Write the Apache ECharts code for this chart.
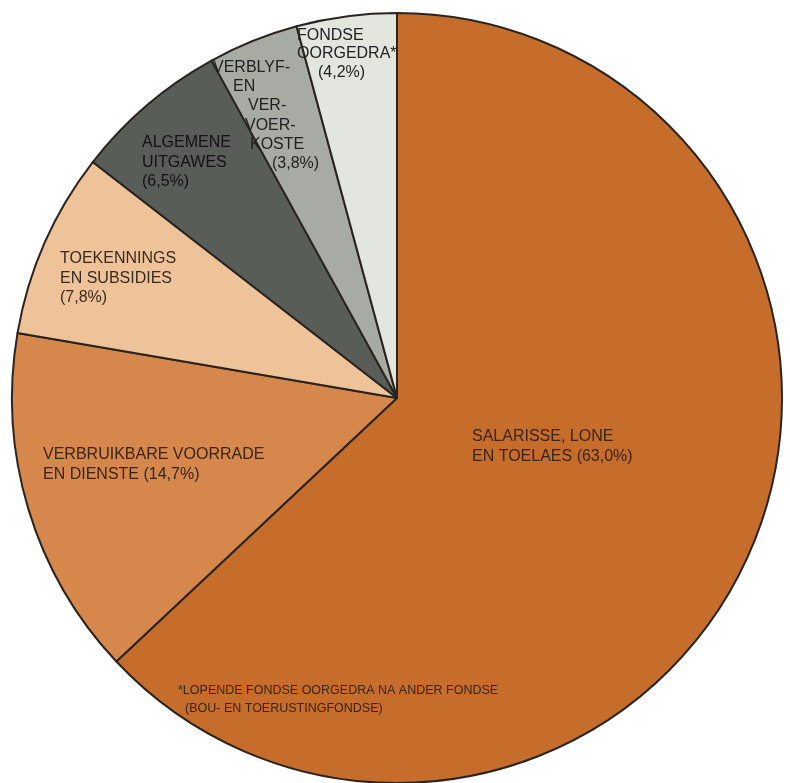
<!DOCTYPE html>
<html>
<head>
<meta charset="utf-8">
<script src="https://cdn.jsdelivr.net/npm/echarts@6/dist/echarts.min.js"></script>
<style>
  html, body { margin: 0; padding: 0; background: #ffffff; }
  #chart { width: 790px; height: 783px; }
</style>
</head>
<body>
<div id="chart"></div>
<script>
// ---- data ----
var categories = [
  'SALARISSE, LONE\nEN TOELAES',
  'VERBRUIKBARE VOORRADE\nEN DIENSTE',
  'TOEKENNINGS\nEN SUBSIDIES',
  'ALGEMENE\nUITGAWES',
  'VERBLYF-\nEN\nVER-\nVOER-\nKOSTE',
  'FONDSE\nOORGEDRA*'
];
var values = [63.0, 14.7, 7.8, 6.5, 3.8, 4.2];
var footnote = ['*LOPENDE FONDSE OORGEDRA NA ANDER FONDSE', '(BOU- EN TOERUSTINGFONDSE)'];

// ---- styles / layout ----
var colors = ['#c66d2c', '#d6884c', '#efc39a', '#585d57', '#a7aba3', '#e3e5df'];
var textColors = ['#3a2412', '#3a2412', '#3a2a1e', '#111211', '#1e1f1e', '#222222'];
var pctOnNewLine = [false, false, true, true, true, true];
// label block: left x, top y, line height, per-line left offsets
var labelLayouts = [
  { x: 472, y: 427, lh: 20, off: [0, 0] },
  { x: 43, y: 445, lh: 20, off: [0, 0] },
  { x: 60, y: 249, lh: 19.5, off: [0, 0, 0] },
  { x: 142, y: 133, lh: 19.5, off: [0, 0, 0] },
  { x: 213, y: 58, lh: 19.2, off: [0, 20, 35, 32, 37, 59] },
  { x: 297, y: 26, lh: 18.5, off: [0, 0, 21] }
];

function pct(v) { return '(' + v.toFixed(1).replace('.', ',') + '%)'; }

var data = values.map(function (v, i) {
  var txt = categories[i] + (pctOnNewLine[i] ? '\n' : ' ') + pct(v);
  var lines = txt.split('\n');
  var L = labelLayouts[i];
  var rich = {};
  lines.forEach(function (ln, j) {
    rich['l' + j] = {
      fontSize: 16,
      fontFamily: 'Liberation Sans, Arial, sans-serif',
      color: textColors[i],
      lineHeight: L.lh,
      padding: [0, 0, 0, L.off[j] || 0]
    };
  });
  return {
    name: categories[i],
    value: v,
    itemStyle: { color: colors[i] },
    label: {
      formatter: lines.map(function (ln, j) { return '{l' + j + '|' + ln + '}'; }).join('\n'),
      rich: rich
    }
  };
});

var chart = echarts.init(document.getElementById('chart'), null, { renderer: 'canvas' });
chart.setOption({
  backgroundColor: '#ffffff',
  animation: false,
  series: [{
    type: 'pie',
    center: [397, 398],
    radius: 385,
    startAngle: 90,
    clockwise: true,
    silent: true,
    avoidLabelOverlap: false,
    itemStyle: { borderColor: '#2a2420', borderWidth: 2 },
    label: {
      show: true,
      position: 'inside',
      fontSize: 16,
      fontFamily: 'Liberation Sans, Arial, sans-serif'
    },
    labelLine: { show: false },
    labelLayout: function (params) {
      var L = labelLayouts[params.dataIndex];
      return { x: L.x, y: L.y, align: 'left', verticalAlign: 'top' };
    },
    emphasis: { disabled: true },
    data: data
  }],
  graphic: [{
    type: 'text',
    left: 178,
    top: 684,
    z: 100,
    silent: true,
    style: {
      text: '{a|' + footnote[0] + '}\n{b|' + footnote[1] + '}',
      fill: '#3a2412',
      rich: {
        a: { fontSize: 12.5, lineHeight: 18, fill: '#3a2412', fontFamily: 'Liberation Sans, Arial, sans-serif' },
        b: { fontSize: 12.5, lineHeight: 18, fill: '#3a2412', fontFamily: 'Liberation Sans, Arial, sans-serif', padding: [0, 0, 0, 7] }
      }
    }
  }]
});
</script>
</body>
</html>
